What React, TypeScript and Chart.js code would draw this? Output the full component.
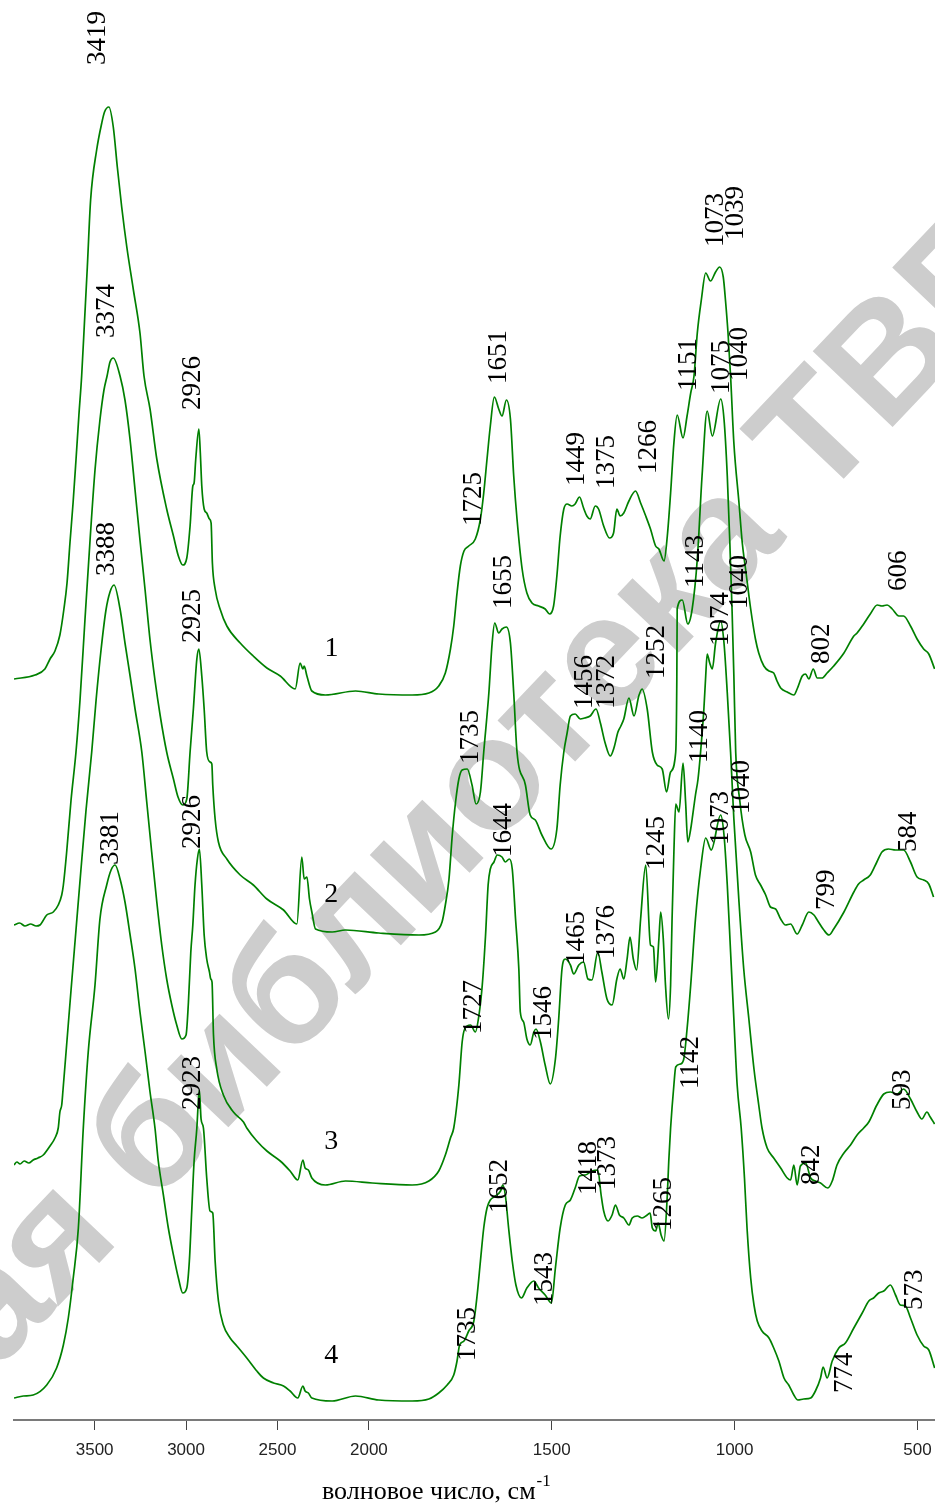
import React, { useEffect, useRef } from "react";
import { Chart, registerables } from "chart.js";
Chart.register(...registerables);

// ---- data (wavenumber, cm-1 / relative intensity, arbitrary units with vertical offsets) ----
const wn1 = [3941,3826,3772,3744,3717,3690,3668,3651,3635,3618,3602,3586,3571,3555,3540,3522,3489,3461,3446,3422,3398,3376,3352,3324,3288,3252,3230,3197,3160,3106,3069,3042,3018,2996,2978,2963,2956,2947,2930,2922,2914,2901,2887,2872,2863,2856,2841,2814,2777,2704,2633,2558,2485,2403,2376,2361,2354,2339,2312,2238,2073,1973,1882,1836,1809,1791,1777,1768,1759,1750,1740,1727,1709,1695,1686,1677,1668,1657,1645,1636,1624,1613,1604,1595,1581,1568,1554,1536,1518,1506,1495,1486,1477,1467,1458,1445,1436,1424,1413,1404,1395,1381,1372,1358,1342,1331,1322,1313,1303,1289,1271,1257,1243,1230,1216,1207,1193,1184,1175,1166,1157,1141,1130,1120,1111,1102,1091,1079,1066,1052,1041,1031,1025,1018,1011,1002,988,979,970,956,943,934,920,906,893,884,874,856,838,829,815,806,797,785,774,761,747,729,701,674,665,647,629,610,597,583,569,551,538,519,501,483,469,453];
const s1 = [741,745,751,761,769,785,811,837,877,917,960,1005,1044,1100,1153,1220,1270,1297,1308,1313,1293,1253,1213,1173,1130,1087,1044,1011,961,911,884,864,855,862,894,934,937,961,991,967,934,911,907,901,897,857,831,811,794,777,764,752,744,731,757,751,754,744,729,725,729,726,725,727,734,747,771,794,827,854,869,874,881,901,927,961,994,1023,1011,1004,1020,1001,944,901,851,827,817,814,811,806,814,844,884,911,916,914,916,923,912,904,901,914,911,894,882,887,911,904,907,919,929,917,904,891,874,871,859,884,927,977,1005,982,1004,1027,1044,1087,1120,1147,1139,1148,1153,1143,1120,1087,1044,977,917,877,851,811,781,767,754,749,747,739,732,728,725,731,744,746,741,751,742,742,747,754,767,784,787,796,806,815,814,815,811,804,804,794,781,771,766,751];

const wn2 = [3941,3910,3881,3850,3820,3799,3762,3726,3699,3680,3671,3653,3629,3602,3580,3553,3525,3498,3471,3449,3432,3416,3398,3361,3334,3306,3279,3252,3224,3197,3170,3142,3106,3069,3044,3018,2996,2978,2960,2941,2930,2914,2901,2887,2869,2859,2854,2841,2823,2777,2704,2632,2558,2467,2394,2367,2354,2339,2325,2312,2292,2201,2128,1973,1863,1818,1800,1791,1781,1772,1763,1754,1745,1731,1718,1707,1695,1686,1672,1663,1656,1645,1636,1624,1613,1604,1595,1572,1559,1545,1527,1502,1486,1477,1467,1458,1449,1436,1422,1410,1395,1379,1367,1354,1340,1330,1319,1311,1303,1289,1275,1262,1253,1239,1225,1212,1198,1186,1175,1161,1158,1157,1143,1128,1116,1102,1089,1075,1061,1038,1029,1020,1013,1007,1002,997,986,972,956,943,929,915,902,888,874,861,847,829,815,797,783,774,756,742,729,701,674,661,647,629,611,597,579,560,538,519,501,483,469,456];
const s2 = [495,497,494,496,494,495,505,508,515,525,535,568,620,668,720,800,880,950,1000,1030,1044,1058,1062,1044,1020,980,930,880,830,780,740,705,668,641,623,615,621,668,711,761,771,744,711,668,658,656,635,601,578,561,545,535,521,510,496,563,541,543,521,508,491,488,490,487,485,488,498,515,541,585,618,641,650,651,635,616,628,668,727,777,797,787,791,793,777,727,668,635,605,600,585,571,591,635,668,687,704,706,701,702,704,711,697,677,664,672,688,694,701,722,704,724,731,711,668,655,651,628,648,668,740,811,820,796,811,861,944,1009,984,1021,1001,944,877,811,744,668,620,585,568,545,535,525,513,511,501,495,496,486,495,508,505,500,490,485,491,508,528,536,540,545,558,568,571,570,570,558,543,540,536,523];

const wn3 = [3941,3925,3908,3885,3860,3836,3810,3781,3744,3717,3699,3690,3680,3673,3651,3629,3602,3575,3547,3516,3492,3465,3438,3416,3394,3361,3334,3306,3279,3242,3215,3188,3160,3133,3106,3078,3051,3023,3000,2987,2974,2963,2951,2938,2927,2914,2901,2887,2872,2865,2858,2850,2832,2796,2741,2686,2668,2613,2558,2485,2431,2389,2361,2349,2331,2312,2238,2128,1991,1882,1836,1809,1791,1777,1768,1754,1745,1738,1722,1709,1699,1690,1681,1674,1668,1658,1649,1636,1627,1616,1608,1599,1590,1586,1577,1568,1559,1549,1543,1531,1518,1504,1490,1481,1472,1463,1449,1440,1426,1413,1401,1390,1374,1363,1349,1335,1322,1313,1303,1294,1286,1277,1268,1257,1243,1230,1222,1216,1207,1202,1195,1189,1181,1175,1171,1166,1161,1152,1141,1134,1128,1120,1116,1107,1100,1093,1084,1079,1075,1068,1061,1052,1038,1029,1020,1011,1002,988,975,961,947,934,925,911,893,874,856,847,838,829,820,806,792,779,765,745,733,720,701,683,665,647,633,611,592,574,556,538,519,501,488,474,465,453];
const s3 = [255,258,256,259,257,260,262,265,274,282,292,308,315,330,380,430,490,550,610,668,720,770,810,828,835,811,777,744,711,668,618,568,518,475,441,415,395,381,385,418,468,495,535,561,571,535,485,461,448,441,438,385,351,325,308,298,292,279,269,259,249,240,260,252,250,242,235,239,237,235,239,249,265,282,292,335,378,391,395,388,405,435,485,535,551,558,565,563,558,561,551,501,451,408,398,381,375,388,391,378,355,336,361,401,451,461,455,446,455,458,441,440,468,448,421,415,441,451,441,461,483,461,450,501,555,475,473,438,481,508,481,435,401,435,501,568,616,608,657,618,578,591,601,625,641,668,711,744,766,757,751,777,799,777,727,668,601,518,451,401,351,315,292,272,262,252,242,240,255,235,254,257,242,239,237,232,239,255,267,275,285,292,298,315,326,328,326,331,321,308,301,308,303,296];

const wn4 = [3941,3890,3836,3762,3708,3671,3644,3617,3589,3562,3535,3498,3471,3434,3410,3388,3361,3334,3306,3279,3252,3224,3197,3170,3152,3124,3097,3069,3042,3018,2996,2982,2969,2956,2941,2933,2927,2918,2905,2887,2869,2854,2841,2823,2796,2759,2722,2668,2613,2577,2522,2467,2431,2389,2361,2349,2331,2312,2201,2073,1973,1882,1836,1809,1786,1768,1759,1752,1740,1727,1713,1704,1695,1686,1677,1668,1654,1640,1634,1627,1618,1608,1598,1583,1568,1549,1536,1518,1501,1490,1477,1463,1449,1436,1424,1408,1390,1374,1365,1358,1346,1335,1326,1315,1303,1289,1280,1266,1253,1239,1231,1225,1216,1209,1201,1193,1184,1180,1175,1166,1161,1148,1139,1130,1120,1107,1093,1079,1064,1038,1029,1020,1011,1002,993,982,973,966,956,947,938,925,906,893,879,865,852,838,827,811,792,779,765,758,747,733,715,697,674,651,633,620,606,592,574,560,547,533,519,501,483,469,453];
const s4 = [22,24,25,35,52,75,102,142,192,292,368,435,501,535,550,555,541,518,485,451,408,368,328,292,259,225,192,165,142,127,132,159,209,259,292,318,330,301,292,242,209,207,159,119,95,82,74,62,49,42,37,34,29,22,34,29,27,22,19,24,20,19,21,27,35,45,59,75,79,89,99,125,159,192,212,220,224,229,235,225,192,159,135,122,132,139,132,125,117,152,192,215,220,232,244,245,249,250,225,209,199,205,215,205,202,195,202,204,202,205,207,192,189,197,185,179,225,259,292,335,353,356,361,391,435,501,551,582,570,605,585,535,468,401,335,292,242,192,142,115,99,89,82,72,59,42,35,25,20,21,22,29,42,53,42,59,72,77,92,107,119,122,127,129,135,125,115,114,102,85,74,70,52];

const xTickValues = [3500, 3000, 2500, 2000, 1500, 1000, 500];
const xMinWn = 452;
const xMaxWn = 3941;
const yMax = 1420;

// annotation labels: text, wavenumber of label centre, intensity at label start
const labelText = ["3419","2926","1725","1651","1449","1375","1266","1151","1073","1039","802","606",
  "3374","2925","1735","1655","1456","1372","1252","1143","1075","1040","799","584",
  "3388","2926","1727","1644","1546","1465","1376","1245","1140","1074","1040","842","593",
  "3381","2923","1735","1652","1543","1418","1373","1265","1142","1073","1040","774","573"];
const labelWn = [3483,2962,1713,1645,1431,1349,1234,1125,1050,997,761,551,
  3434,2960,1720,1631,1408,1349,1212,1107,1036,986,747,524,
  3434,2960,1713,1631,1522,1431,1349,1212,1095,1038,986,788,540,
  3411,2960,1729,1643,1520,1399,1347,1193,1120,1038,981,699,507];
const labelVal = [1355,1010,894,1036,934,931,946,1029,1173,1180,756,829,
  1082,777,656,811,711,711,741,832,1026,1039,510,568,
  844,571,386,563,380,455,461,550,657,774,811,235,310,
  555,310,59,207,114,225,230,189,331,575,606,27,110];

const seriesNames = ["1", "2", "3", "4"];
const seriesNameWn = [2204, 2206, 2206, 2206];
const seriesNameVal = [771, 525, 278, 64];

const BREAK = 2000;
const toAxis = (w: number) => (w <= BREAK ? w : BREAK + (w - BREAK) / 2);
const fromAxis = (u: number) => (u <= BREAK ? u : BREAK + (u - BREAK) * 2);

const GREEN = "#008000";

const annotPlugin = {
  id: "annot",
  beforeDatasetsDraw(chart: any) {
    const ctx = chart.ctx;
    ctx.save();
    ctx.fillStyle = "#cdcdcd";
    ctx.font = 'bold 160px "Liberation Sans", Arial, sans-serif';
    const prefix = "Научная ";
    const mid = "библиотека";
    const full = prefix + mid + " ТВГУ";
    const wp = ctx.measureText(prefix).width;
    const wm = ctx.measureText(mid).width;
    ctx.translate(438, 842);
    ctx.rotate((-46.5 * Math.PI) / 180);
    ctx.textBaseline = "middle";
    ctx.textAlign = "left";
    ctx.fillText(full, -(wp + wm / 2), 0);
    ctx.restore();
  },
  afterDatasetsDraw(chart: any) {
    const ctx = chart.ctx;
    const xs = chart.scales.x;
    const ys = chart.scales.y;
    ctx.save();
    ctx.fillStyle = "#000";
    ctx.font = '27px "Liberation Serif", "Times New Roman", serif';
    ctx.textAlign = "left";
    ctx.textBaseline = "middle";
    for (let i = 0; i < labelText.length; i++) {
      const px = xs.getPixelForValue(toAxis(labelWn[i]));
      const py = ys.getPixelForValue(labelVal[i]);
      ctx.save();
      ctx.translate(px, py);
      ctx.rotate(-Math.PI / 2);
      ctx.fillText(labelText[i], 0, 0);
      ctx.restore();
    }
    ctx.font = '28px "Liberation Serif", "Times New Roman", serif';
    ctx.textAlign = "center";
    for (let i = 0; i < seriesNames.length; i++) {
      const px = xs.getPixelForValue(toAxis(seriesNameWn[i]));
      const py = ys.getPixelForValue(seriesNameVal[i]);
      ctx.fillText(seriesNames[i], px, py);
    }
    // axis title
    ctx.textAlign = "left";
    ctx.textBaseline = "alphabetic";
    ctx.font = '26px "Liberation Serif", "Times New Roman", serif';
    const main = "волновое число, см";
    const tx = 322;
    const ty = 1499;
    ctx.fillText(main, tx, ty);
    const mw = ctx.measureText(main).width;
    ctx.font = '17px "Liberation Serif", "Times New Roman", serif';
    ctx.fillText("-1", tx + mw + 1, ty - 13);
    ctx.restore();
  },
};

export default function App() {
  const ref = useRef<HTMLCanvasElement>(null);
  useEffect(() => {
    document.body.style.margin = "0";
    const canvas = ref.current!;
    const series = [
      [wn1, s1],
      [wn2, s2],
      [wn3, s3],
      [wn4, s4],
    ];
    const datasets = series.map(([w, s], k) => ({
      label: seriesNames[k],
      data: (w as number[]).map((x, i) => ({ x: toAxis(x), y: (s as number[])[i] })),
      borderColor: GREEN,
      borderWidth: 1.7,
      pointRadius: 0,
      fill: false,
      cubicInterpolationMode: "monotone" as const,
    }));
    const chart = new Chart(canvas, {
      type: "line",
      data: { datasets },
      options: {
        animation: false,
        responsive: false,
        devicePixelRatio: 1,
        layout: { autoPadding: false, padding: { left: 14, right: 0, top: 0, bottom: 0 } },
        plugins: { legend: { display: false }, tooltip: { enabled: false } },
        scales: {
          x: {
            type: "linear",
            reverse: true,
            min: toAxis(xMinWn),
            max: toAxis(xMaxWn),
            afterBuildTicks: (s: any) => {
              s.ticks = xTickValues.map((v) => ({ value: toAxis(v) }));
            },
            afterFit: (s: any) => {
              s.height = 85;
              s.paddingLeft = 0;
              s.paddingRight = 0;
            },
            ticks: {
              autoSkip: false,
              maxRotation: 0,
              padding: 10,
              color: "#222",
              font: { family: '"Liberation Sans", Arial, sans-serif', size: 17 },
              callback: (v: any) => String(Math.round(fromAxis(Number(v)))),
            },
            grid: {
              display: true,
              drawOnChartArea: false,
              drawTicks: true,
              tickLength: 10,
              color: "#444",
              lineWidth: 1,
            },
            border: { display: true, color: "#7a7a7a", width: 2 },
          },
          y: { display: false, min: 0, max: yMax },
        },
      },
      plugins: [annotPlugin],
    } as any);
    return () => chart.destroy();
  }, []);
  return (
    <canvas
      ref={ref}
      width={935}
      height={1505}
      style={{ display: "block", width: 935, height: 1505 }}
    />
  );
}
